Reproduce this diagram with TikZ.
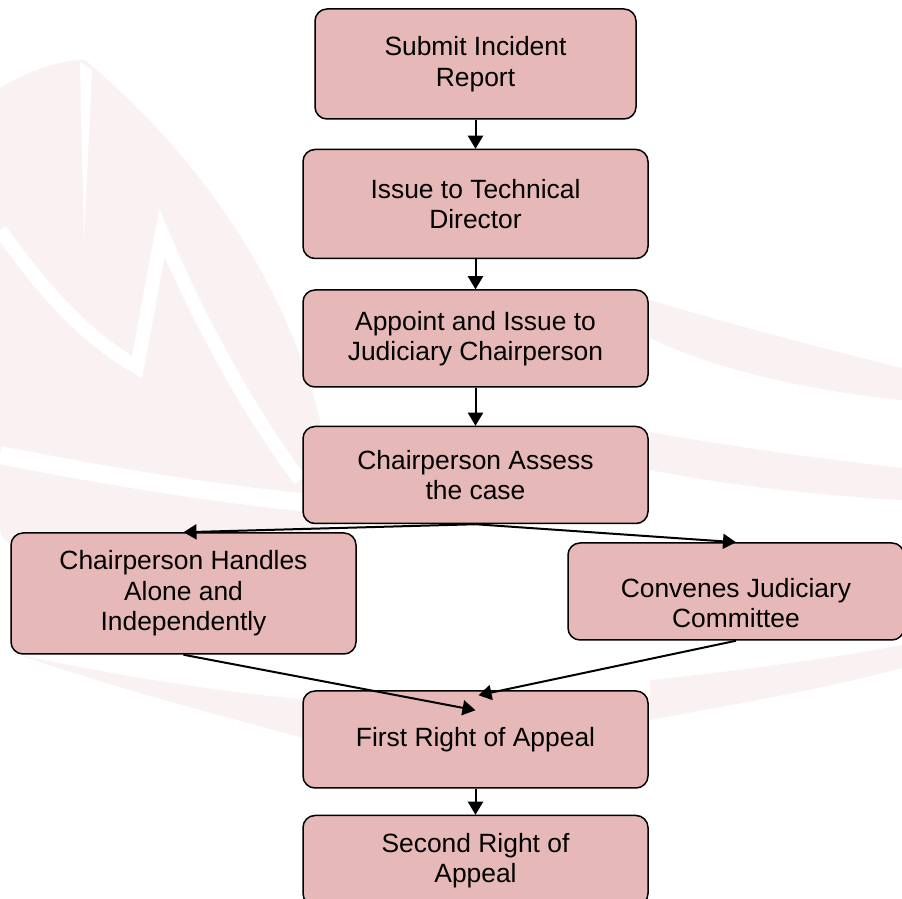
\documentclass[tikz,border=0pt]{standalone}
\usepackage{fontspec}
\setmainfont{Liberation Sans}
\usepackage{tikz}
\usetikzlibrary{positioning, arrows.meta}
\definecolor{stagepink}{HTML}{E6B8B7}
\definecolor{wmark}{HTML}{FAF2F2}
\newcommand{\stagefont}{\fontsize{13.2}{15.25}\selectfont}
\tikzset{>={Triangle[length=6.5pt, width=7.5pt]},
    stage/.style={draw, line width=0.75pt, fill=stagepink, rounded corners=6pt,
        align=center, inner sep=2pt, minimum width=172.5pt, minimum height=48.5pt,
        font=\stagefont},
    flow/.style={->, line width=1pt}}

\begin{document}
\begin{tikzpicture}[x=0.5pt, y=-0.5pt]
    \useasboundingbox (0,0) rectangle (902,899);
    % faint watermark behind the chart
    \fill[wmark] (0,88) .. controls (30,70) and (60,60) .. (85,60)
        .. controls (180,140) and (280,260) .. (320,420) -- (330,545) -- (11,545)
        .. controls (5,540) and (0,535) .. (0,530) -- cycle;
    \draw[white, line width=7pt] (0,230) .. controls (50,300) and (90,340) .. (137,367)
        -- (162,233) .. controls (190,300) and (240,400) .. (300,480);
    \draw[white, line width=9pt] (0,455) .. controls (100,475) and (220,495) .. (330,505);
    \fill[white] (80,62) -- (92,70) -- (84,240) -- cycle;
    \fill[wmark] (650,300) .. controls (750,330) and (850,355) .. (902,368)
        -- (902,400) .. controls (820,392) and (720,372) .. (650,338) -- cycle;
    \fill[wmark] (650,432) .. controls (750,450) and (850,462) .. (902,468)
        -- (902,500) .. controls (820,496) and (720,484) .. (650,470) -- cycle;
    \fill[wmark] (20,655) .. controls (120,690) and (220,715) .. (310,740)
        -- (310,700) .. controls (200,690) and (100,672) .. (20,655) -- cycle;
    \fill[wmark] (650,680) .. controls (750,670) and (850,655) .. (902,645)
        -- (902,668) .. controls (820,690) and (730,705) .. (650,720) -- cycle;

    \node[stage, minimum width=160.5pt, minimum height=55pt] (submit) at (475.5,64) {Submit Incident\\Report};
    \node[stage, minimum height=54.5pt, below=14.5pt of submit] (issue) {Issue to Technical\\Director};
    \node[stage, below=15pt of issue] (appoint) {Appoint and Issue to\\Judiciary Chairperson};
    \node[stage, below=19pt of appoint] (assess) {Chairperson Assess\\the case};
    \node[stage, minimum height=60.5pt] (alone) at (183.5,593.5) {Chairperson Handles\\Alone and\\Independently};
    \node[stage, minimum width=168pt] (committee) at (736,591.5) {\rule{0pt}{21pt}Convenes Judiciary\\Committee};
    \node[stage, below=83pt of assess] (appeal1) {First Right of Appeal};
    \node[stage, minimum height=45pt, below=13pt of appeal1] (appeal2) {Second Right of\\Appeal};

    \coordinate (in1) at ([yshift=-10pt]appeal1.north);
    \coordinate (in2) at ([xshift=1.5pt, yshift=-2.5pt]appeal1.north);

    \path (submit) edge[flow] (issue)
          (issue) edge[flow] (appoint)
          (appoint) edge[flow] (assess)
          (assess.south) edge[flow] (alone.north)
          (assess.south) edge[flow] (committee.north)
          (alone.south) edge[flow] (in1)
          (committee.south) edge[flow] (in2)
          (appeal1) edge[flow] (appeal2);
\end{tikzpicture}
\end{document}
